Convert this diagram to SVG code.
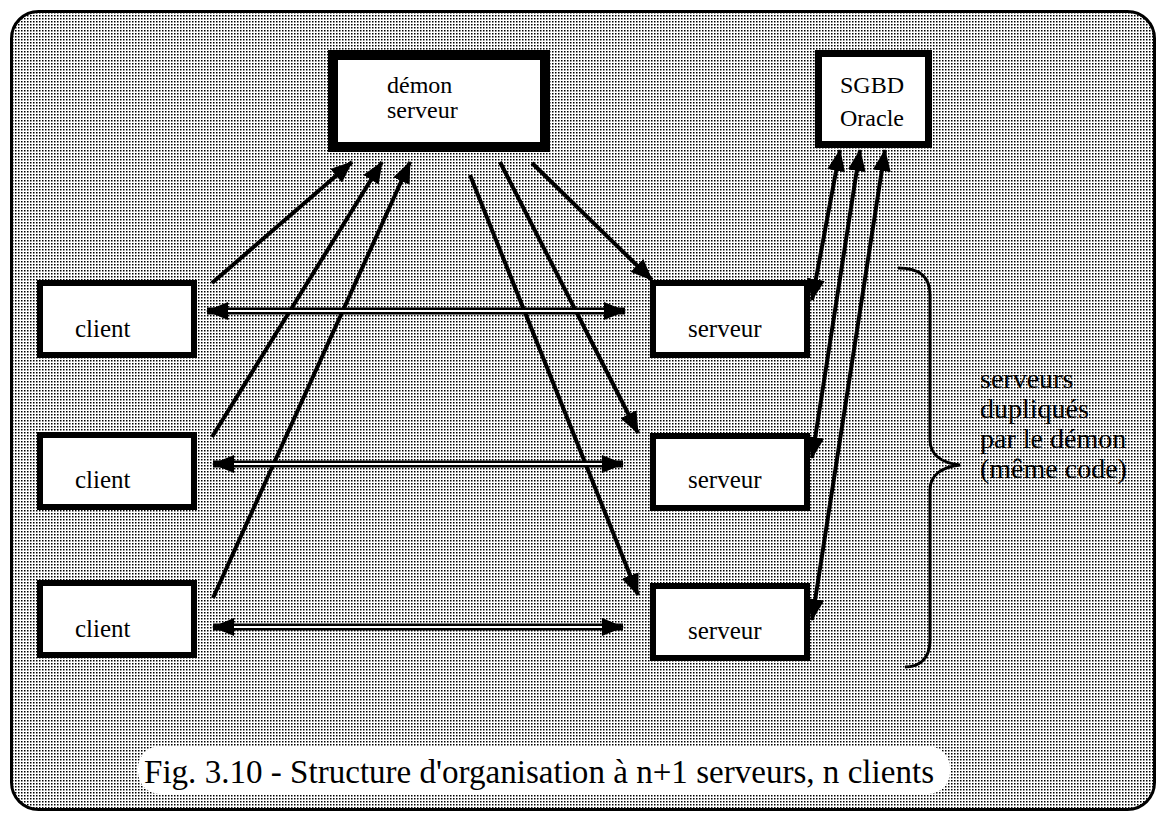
<svg xmlns="http://www.w3.org/2000/svg" width="1162" height="818" viewBox="0 0 1162 818">
<style>
.box{fill:#fff;stroke:#000}
.lbl{font-family:"Liberation Serif","Times New Roman",serif;fill:#000}
.ln{stroke:#000;stroke-width:4;fill:none}
.dbl{stroke:#000;stroke-width:7;fill:none}
.dbli{stroke:#fff;stroke-width:2;fill:none}
</style>
<defs>
<pattern id="dots" width="3" height="3" patternUnits="userSpaceOnUse">
<rect width="3" height="3" fill="#fff"/>
<rect width="1.5" height="1.5" fill="#000"/>
</pattern>
<marker id="ah" viewBox="0 0 22 18" refX="21" refY="9" markerWidth="22" markerHeight="18" markerUnits="userSpaceOnUse" orient="auto-start-reverse">
<path d="M0,0 L22,9 L0,18 z" fill="#000"/>
</marker>
</defs>
<rect width="1162" height="818" fill="#fff"/>
<rect id="frame" x="11.5" y="11.5" width="1143" height="798" rx="27" fill="url(#dots)" stroke="#000" stroke-width="3"/>
<g id="connectors">
<line class="ln" x1="212" y1="283" x2="352" y2="162" marker-end="url(#ah)"/>
<line class="ln" x1="212" y1="437" x2="382" y2="162" marker-end="url(#ah)"/>
<line class="ln" x1="213" y1="598" x2="410" y2="162" marker-end="url(#ah)"/>
<line class="ln" x1="532" y1="163" x2="652" y2="280" marker-end="url(#ah)"/>
<line class="ln" x1="500" y1="162" x2="638" y2="433" marker-end="url(#ah)"/>
<line class="ln" x1="470" y1="175" x2="638" y2="595" marker-end="url(#ah)"/>
<line class="ln" x1="812" y1="300" x2="840" y2="150" marker-start="url(#ah)" marker-end="url(#ah)"/>
<line class="ln" x1="812" y1="458" x2="860" y2="150" marker-start="url(#ah)" marker-end="url(#ah)"/>
<line class="ln" x1="812" y1="620" x2="885" y2="150" marker-start="url(#ah)" marker-end="url(#ah)"/>
<line class="dbl" x1="207" y1="311" x2="625" y2="311" marker-start="url(#ah)" marker-end="url(#ah)"/>
<line class="dbli" x1="228" y1="311" x2="604" y2="311"/>
<line class="dbl" x1="213" y1="464" x2="623" y2="464" marker-start="url(#ah)" marker-end="url(#ah)"/>
<line class="dbli" x1="234" y1="464" x2="602" y2="464"/>
<line class="dbl" x1="213" y1="627" x2="623" y2="627" marker-start="url(#ah)" marker-end="url(#ah)"/>
<line class="dbli" x1="234" y1="627" x2="602" y2="627"/>
</g>
<g id="demon">
<rect class="box" x="333" y="55" width="212" height="92" stroke-width="10"/>
<text class="lbl" x="387" y="93" font-size="24">démon</text>
<text class="lbl" x="387" y="118" font-size="24">serveur</text>
</g>
<g id="sgbd">
<rect class="box" x="818.5" y="53.5" width="110" height="91" stroke-width="7"/>
<text class="lbl" x="840" y="93" font-size="24">SGBD</text>
<text class="lbl" x="840" y="126" font-size="24">Oracle</text>
</g>
<g id="client1">
<rect class="box" x="40" y="283" width="154" height="72" stroke-width="6"/>
<text class="lbl" x="75" y="337" font-size="25">client</text>
</g>
<g id="client2">
<rect class="box" x="40" y="435" width="154" height="72" stroke-width="6"/>
<text class="lbl" x="75" y="488" font-size="25">client</text>
</g>
<g id="client3">
<rect class="box" x="40" y="583" width="154" height="72" stroke-width="6"/>
<text class="lbl" x="75" y="637" font-size="25">client</text>
</g>
<g id="serveur1">
<rect class="box" x="653" y="283" width="154" height="72" stroke-width="6"/>
<text class="lbl" x="688" y="337" font-size="25">serveur</text>
</g>
<g id="serveur2">
<rect class="box" x="653" y="436" width="154" height="72" stroke-width="6"/>
<text class="lbl" x="688" y="488" font-size="25">serveur</text>
</g>
<g id="serveur3">
<rect class="box" x="653" y="586" width="154" height="72" stroke-width="6"/>
<text class="lbl" x="688" y="639" font-size="25">serveur</text>
</g>
<g id="brace">
<path d="M898,268 C918,268 930,275 930,295 L930,440 C930,455 942,463 960,465 C942,467 930,475 930,490 L930,640 C930,660 918,667 905,667" fill="none" stroke="#000" stroke-width="3"/>
<text class="lbl" font-size="28"><tspan x="980" y="388">serveurs</tspan><tspan x="980" y="418">dupliqués</tspan><tspan x="980" y="448">par le démon</tspan><tspan x="980" y="478">(même code)</tspan></text>
</g>
<g id="caption">
<rect x="138" y="746" width="812" height="48" rx="22" fill="#fff"/>
<text class="lbl" x="144" y="783" font-size="33" textLength="790" lengthAdjust="spacingAndGlyphs">Fig. 3.10 - Structure d'organisation à n+1 serveurs, n clients</text>
</g>
</svg>
